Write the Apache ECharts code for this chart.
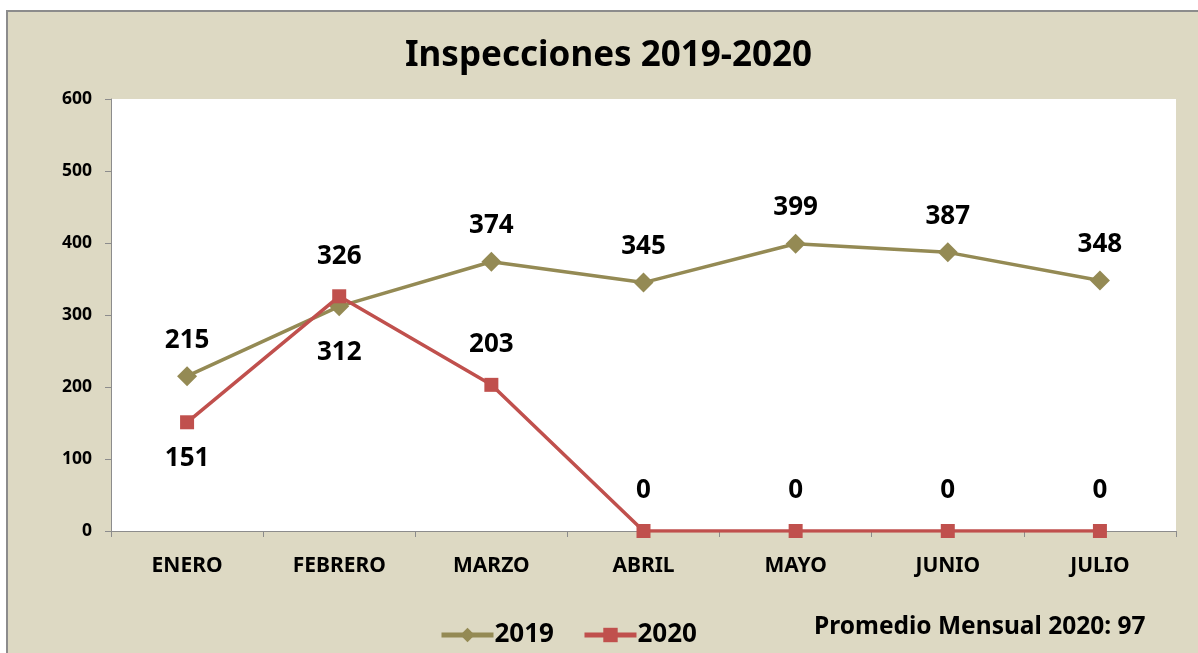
<!DOCTYPE html>
<html>
<head>
<meta charset="utf-8">
<script src="https://cdn.jsdelivr.net/npm/echarts@6/dist/echarts.min.js"></script>
<style>
  html, body { margin: 0; padding: 0; background: #ffffff; }
  #chart { width: 1198px; height: 653px; }
</style>
</head>
<body>
<div id="chart"></div>
<script>
// Monthly inspections, January–July
const months = ['ENERO', 'FEBRERO', 'MARZO', 'ABRIL', 'MAYO', 'JUNIO', 'JULIO'];
const values2019 = [215, 312, 374, 345, 399, 387, 348];
const values2020 = [151, 326, 203, 0, 0, 0, 0];
const yTicks = [0, 100, 200, 300, 400, 500, 600];
const avgNote = 'Promedio Mensual 2020: 97';

const FONT = '"Noto Sans", "Open Sans", sans-serif';
const OLIVE = '#948A54';
const RED = '#C0504D';

// labels sit above the point unless the other series would cover them
const below2019 = new Set([1]);
const below2020 = new Set([0]);

function labelled(values, belowSet, gapAbove, gapBelow) {
  return values.map((v, i) => ({
    value: v,
    label: belowSet.has(i)
      ? { position: 'bottom', distance: gapBelow }
      : { position: 'top', distance: gapAbove }
  }));
}

const valueLabel = {
  show: true,
  fontFamily: FONT,
  fontWeight: 'bold',
  fontSize: 26,
  color: '#000'
};

const chart = echarts.init(document.getElementById('chart'));
chart.setOption({
  animation: false,
  backgroundColor: '#ffffff',
  graphic: [
    {
      type: 'rect',
      shape: { x: 7, y: 11, width: 1300, height: 800 },
      style: { fill: '#DDD9C3', stroke: '#8C8C8C', lineWidth: 2 },
      silent: true,
      z: -10
    },
    {
      type: 'text',
      left: 814,
      top: 615,
      style: {
        text: avgNote,
        font: 'bold 24.5px ' + FONT,
        fill: '#000000'
      }
    }
  ],
  title: {
    text: 'Inspecciones 2019-2020',
    left: 400,
    top: 34,
    textStyle: { fontFamily: FONT, fontWeight: 'bold', fontSize: 35, color: '#000' }
  },
  legend: {
    left: 434,
    top: 617,
    itemWidth: 52,
    itemHeight: 18,
    itemGap: 28,
    lineStyle: { width: 5 },
    textStyle: { fontFamily: FONT, fontWeight: 'bold', fontSize: 26, color: '#000', padding: [0, 0, 0, -4] },
    data: ['2019', '2020']
  },
  grid: {
    left: 111,
    top: 99,
    right: 22,
    bottom: 122,
    show: true,
    backgroundColor: '#ffffff',
    borderWidth: 0
  },
  xAxis: {
    type: 'category',
    data: months,
    boundaryGap: true,
    axisLine: { lineStyle: { color: '#8C8C8C', width: 1 } },
    axisTick: { show: true, length: 6, lineStyle: { color: '#8C8C8C' } },
    axisLabel: { fontFamily: FONT, fontWeight: 'bold', fontSize: 21, color: '#000', margin: 25 }
  },
  yAxis: {
    type: 'value',
    min: yTicks[0],
    max: yTicks[yTicks.length - 1],
    interval: 100,
    axisLine: { show: true, lineStyle: { color: '#8C8C8C', width: 1 } },
    axisTick: { show: true, length: 6, lineStyle: { color: '#8C8C8C' } },
    splitLine: { show: false },
    axisLabel: { fontFamily: FONT, fontWeight: 'bold', fontSize: 17.5, color: '#000', margin: 19 }
  },
  series: [
    {
      name: '2019',
      type: 'line',
      data: labelled(values2019, below2019, 13, 23),
      symbol: 'diamond',
      symbolSize: 20,
      lineStyle: { color: OLIVE, width: 3.5 },
      itemStyle: { color: OLIVE },
      label: valueLabel,
      z: 2
    },
    {
      name: '2020',
      type: 'line',
      data: labelled(values2020, below2020, 20, 16),
      symbol: 'rect',
      symbolSize: 14,
      lineStyle: { color: RED, width: 3.5 },
      itemStyle: { color: RED },
      label: valueLabel,
      z: 3
    }
  ]
});
</script>
</body>
</html>
